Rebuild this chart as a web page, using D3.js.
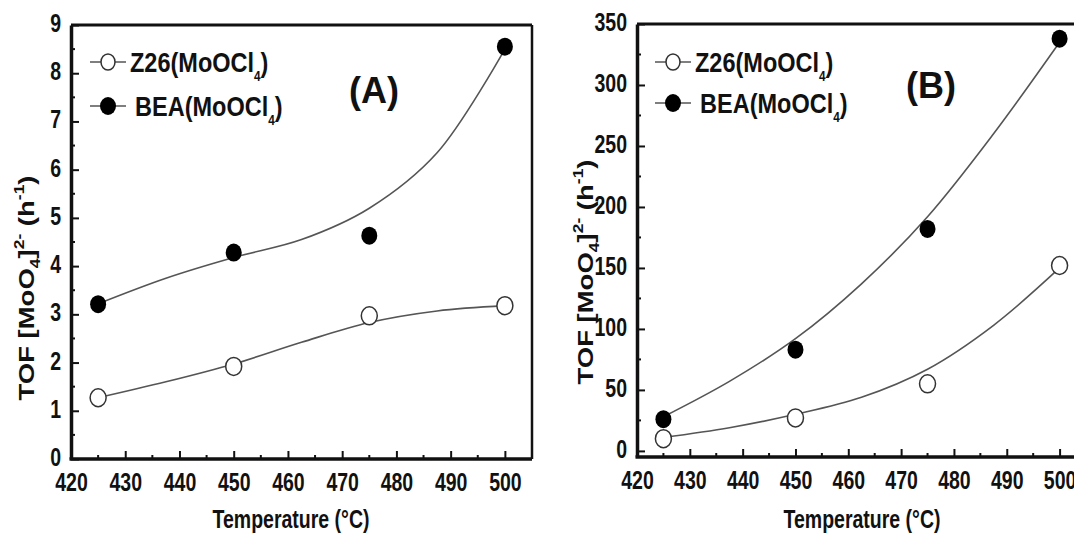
<!DOCTYPE html>
<html>
<head>
<meta charset="utf-8">
<script src="https://cdn.jsdelivr.net/npm/d3@7"></script>
<style>
  body { margin: 0; background: #fff; }
  text { font-family: "Liberation Sans", Arial, sans-serif; font-weight: bold; fill: #111; }
</style>
</head>
<body>
<div id="chart"></div>
<script>
// measured points
var temps = [425, 450, 475, 500];
var z26A = [1.27, 1.92, 2.97, 3.18];
var beaA = [3.21, 4.28, 4.63, 8.55];
var z26B = [10, 27, 55, 152];
var beaB = [26, 83, 182, 338];

// fitted curves
var fitT = [425, 437.5, 450, 462.5, 475, 487.5, 500];
var z26AFit = [1.27, 1.6, 1.97, 2.42, 2.83, 3.07, 3.18];
var beaAFit = [3.22, 3.75, 4.18, 4.55, 5.2, 6.35, 8.5];
var z26BFit = [11, 19, 30, 44, 67, 103, 150];
var beaBFit = [28, 57, 92, 137, 192, 260, 335];

var xTicks = [420, 430, 440, 450, 460, 470, 480, 490, 500];
var yTicksA = [0, 1, 2, 3, 4, 5, 6, 7, 8, 9];
var yTicksB = [0, 50, 100, 150, 200, 250, 300, 350];
var legendNames = ['Z26(MoOCl', 'BEA(MoOCl'];

var
  W = 1074,
  H = 533,
  narrow = 0.78;   // the source picture is stretched vertically, so text looks condensed

var svg = d3.select("#chart").append("svg")
  .attr("width", W)
  .attr("height", H);

function panel(opt) {
  var x = d3.scaleLinear().domain([420, 505]).range([opt.left, opt.right]);
  var y = d3.scaleLinear().domain(opt.yDomain).range([opt.bottom, opt.top]);
  var g = svg.append("g");

  // frame
  g.append("line").attr("x1", opt.left).attr("x2", opt.right).attr("y1", opt.top).attr("y2", opt.top)
    .attr("stroke", "#111").attr("stroke-width", 3);
  g.append("line").attr("x1", opt.right).attr("x2", opt.right).attr("y1", opt.top).attr("y2", opt.bottom)
    .attr("stroke", "#111").attr("stroke-width", 2.5);

  // minor ticks
  var xMinor = d3.range(425, 505, 10);
  g.selectAll(".xm").data(xMinor).enter().append("line")
    .attr("x1", x).attr("x2", x).attr("y1", opt.bottom).attr("y2", opt.bottom - 4)
    .attr("stroke", "#111").attr("stroke-width", 2);
  var step = opt.yTicks[1] - opt.yTicks[0];
  var yMinor = opt.yTicks.slice(0, -1).map(function(d) { return d + step / 2; });
  g.selectAll(".ym").data(yMinor).enter().append("line")
    .attr("x1", opt.left).attr("x2", opt.left + 4).attr("y1", y).attr("y2", y)
    .attr("stroke", "#111").attr("stroke-width", 2);

  var xAxis = d3.axisBottom(x).tickValues(xTicks).tickSizeInner(-8).tickSizeOuter(0).tickPadding(14);
  var yAxis = d3.axisLeft(y).tickValues(opt.yTicks).tickSizeInner(-8).tickSizeOuter(0);

  var xa = g.append("g").attr("transform", "translate(0," + opt.bottom + ")").call(xAxis);
  var ya = g.append("g").attr("transform", "translate(" + opt.left + ",0)").call(yAxis);
  [xa, ya].forEach(function(a) {
    a.select(".domain").attr("stroke", "#111").attr("stroke-width", 3.5);
    a.selectAll(".tick line").attr("stroke", "#111").attr("stroke-width", 2);
    a.selectAll(".tick text").style("font-size", "25px").attr("fill", "#111");
  });
  xa.select(".domain").attr("d", "M" + (opt.left - 1.5) + ",0H" + opt.right);
  xa.selectAll(".tick text").attr("transform", "scale(" + narrow + ",1)");
  ya.selectAll(".tick text").attr("x", 0).attr("dy", "0.3em")
    .attr("transform", "translate(-10,-1) scale(" + narrow + ",1)");

  // fit curves
  var line = d3.line()
    .x(function(d, i) { return x(fitT[i]); })
    .y(function(d) { return y(d); })
    .curve(d3.curveCatmullRom.alpha(0.5));
  [opt.zFit, opt.bFit].forEach(function(f) {
    g.append("path").attr("d", line(f)).attr("fill", "none")
      .attr("stroke", "#555").attr("stroke-width", 1.6);
  });

  // points
  g.selectAll(".pz").data(opt.z).enter().append("ellipse")
    .attr("cx", function(d, i) { return x(temps[i]); })
    .attr("cy", y)
    .attr("rx", 8).attr("ry", 9)
    .attr("fill", "#fff").attr("stroke", "#333").attr("stroke-width", 1.5);
  g.selectAll(".pb").data(opt.b).enter().append("ellipse")
    .attr("cx", function(d, i) { return x(temps[i]); })
    .attr("cy", y)
    .attr("rx", 8).attr("ry", 9)
    .attr("fill", "#000");

  // legend
  legendNames.forEach(function(name, i) {
    var ly = opt.legY[i];
    var lx = opt.legX;
    g.append("line").attr("x1", lx).attr("x2", lx + 36).attr("y1", ly).attr("y2", ly)
      .attr("stroke", "#555").attr("stroke-width", 1.6);
    g.append("ellipse").attr("cx", lx + 18).attr("cy", ly).attr("rx", i ? 8 : 7).attr("ry", i ? 9 : 8)
      .attr("fill", i ? "#000" : "#fff").attr("stroke", i ? "none" : "#333").attr("stroke-width", 1.5);
    var t = g.append("text")
      .attr("transform", "translate(" + (lx + 40 + (i ? 5 : 0)) + "," + (ly + 10) + ") scale(0.84,1)")
      .style("font-size", "28px");
    t.append("tspan").text(name);
    t.append("tspan").attr("dy", 9).style("font-size", "14px").text("4");
    t.append("tspan").attr("dy", -9).text(")");
  });

  // panel label
  g.append("text").attr("x", opt.labX).attr("y", opt.labY).attr("text-anchor", "middle")
    .style("font-size", "36px").text(opt.label);

  // axis titles
  g.append("text")
    .attr("transform", "translate(" + opt.xtX + ",528) scale(" + narrow + ",1)")
    .attr("text-anchor", "middle").style("font-size", "25px").text("Temperature (°C)");

  var yt = g.append("text")
    .attr("transform", "translate(" + opt.ytX + "," + opt.ytY + ") rotate(-90) scale(1.25,1)")
    .attr("text-anchor", "middle")
    .style("font-size", "22px");
  yt.append("tspan").text("TOF [MoO");
  yt.append("tspan").attr("dy", 6).style("font-size", "14px").text("4");
  yt.append("tspan").attr("dy", -6).text("]");
  yt.append("tspan").attr("dy", -10).style("font-size", "14px").text("2-");
  yt.append("tspan").attr("dy", 10).text(" (h");
  yt.append("tspan").attr("dy", -10).style("font-size", "14px").text("-1");
  yt.append("tspan").attr("dy", 10).text(")");
}

panel({
  left: 71, right: 532, top: 25, bottom: 459,
  yDomain: [0, 9], yTicks: yTicksA,
  z: z26A, b: beaA, zFit: z26AFit, bFit: beaAFit,
  legX: 90, legY: [62, 106], label: "(A)", labX: 374, labY: 103,
  ytX: 34, ytY: 288, xtX: 291
});

panel({
  left: 637, right: 1086, top: 24, bottom: 457,
  yDomain: [-5, 350], yTicks: yTicksB,
  z: z26B, b: beaB, zFit: z26BFit, bFit: beaBFit,
  legX: 655, legY: [62, 103], label: "(B)", labX: 931, labY: 98,
  ytX: 593, ytY: 272, xtX: 862
});
</script>
</body>
</html>
